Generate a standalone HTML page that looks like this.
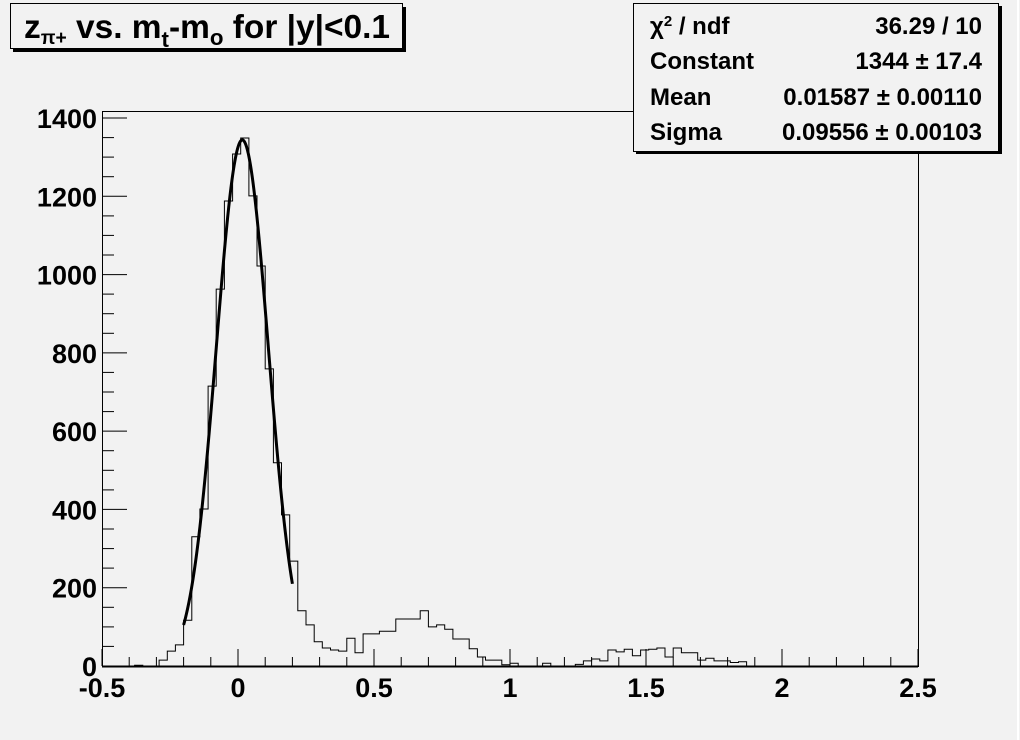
<!DOCTYPE html>
<html><head><meta charset="utf-8"><style>
html,body{margin:0;padding:0;background:#f2f2f2;}
svg{display:block;font-family:"Liberation Sans",Arial,sans-serif;font-weight:bold;}
</style></head><body>
<svg id="s" width="1020" height="740" viewBox="0 0 1020 740" xmlns="http://www.w3.org/2000/svg">
<rect x="0" y="0" width="1020" height="740" fill="#f2f2f2"/>
<line x1="1018" y1="0" x2="1018" y2="740" stroke="#fff" stroke-width="2"/>
<rect x="102.5" y="111.5" width="816" height="555" fill="none" stroke="#000" stroke-width="1"/>
<g id="ticks" stroke="#000" stroke-width="1"></g>
<path id="h" fill="none" stroke="#000" stroke-width="1"/>
<path id="f" fill="none" stroke="#000" stroke-width="3"/>
<line x1="102" y1="666.5" x2="918" y2="666.5" stroke="#000" stroke-width="2"/>
<g font-size="27" text-anchor="end" id="yl"></g>
<g font-size="27" text-anchor="middle" id="xl"></g>
<!-- title -->
<rect x="13" y="7" width="393" height="45" fill="#000"/>
<rect x="10.5" y="3.5" width="392" height="45" fill="#f2f2f2" stroke="#000" stroke-width="1"/>
<text x="24" y="38" font-size="33" textLength="366" lengthAdjust="spacingAndGlyphs">z<tspan font-size="19" dy="6">π+</tspan><tspan dy="-6"> vs. m</tspan><tspan font-size="22" dy="9">t</tspan><tspan dy="-9">-m</tspan><tspan font-size="22" dy="7">o</tspan><tspan dy="-7"> for |y|&lt;0.1</tspan></text>
<!-- stats -->
<rect x="636" y="6" width="366" height="148" fill="#000"/>
<rect x="633.5" y="3.5" width="365" height="148" fill="#f2f2f2" stroke="#000" stroke-width="1"/>
<g font-size="24">
<text x="650" y="34">χ<tspan font-size="15" dy="-8">2</tspan><tspan dy="8"> / ndf</tspan></text>
<text x="982" y="34" text-anchor="end">36.29 / 10</text>
<text x="650" y="69">Constant</text>
<text x="982" y="69" text-anchor="end">1344 ± 17.4</text>
<text x="650" y="105">Mean</text>
<text x="982" y="105" text-anchor="end">0.01587 ± 0.00110</text>
<text x="650" y="140">Sigma</text>
<text x="982" y="140" text-anchor="end">0.09556 ± 0.00103</text>
</g>
</svg>
<script>
var X0=102,PX=272,Y0=666,PY=548/1400;
function X(v){return X0+(v+0.5)*PX;}function Y(c){return Y0-c*PY;}
var vals={4:2,7:15,8:38,9:54,10:117,11:330,12:401,13:715,14:963,15:1188,16:1308,17:1349,18:1201,19:1022,20:759,21:519,22:386,23:268,24:141,25:105,26:62,27:46,28:41,29:38,30:71,31:34,32:82,33:82,34:89,35:89,36:120,37:120,38:120,39:141,40:100,41:105,42:94,43:69,44:69,45:44,46:23,47:15,48:15,49:3,50:7,54:7,58:4,59:13,60:18,61:13,62:41,63:36,64:43,65:26,66:41,67:43,68:46,69:23,70:46,71:34,72:34,73:15,74:20,75:13,76:13,77:9,78:11};
var d="M"+X0+" "+Y0;
for(var k=0;k<100;k++){var v=vals[k]||0,x1=X(-0.5+k*0.03),x2=X(-0.5+(k+1)*0.03),y=Y(v).toFixed(1);d+=" L"+x1.toFixed(1)+" "+y+" L"+x2.toFixed(1)+" "+y;}
d+=" L"+X(2.5)+" "+Y0;
document.getElementById('h').setAttribute('d',d);
var f="";for(var i=0;i<=200;i++){var x=-0.2+0.4*i/200,c=1344*Math.exp(-0.5*Math.pow((x-0.01587)/0.09556,2));f+=(i?"L":"M")+X(x).toFixed(2)+" "+Y(c).toFixed(2)+" ";}
document.getElementById('f').setAttribute('d',f);
var t="";
for(var c=0;c<=1400;c+=50){var y=Y(c).toFixed(1),L=c%200==0?25:12;t+='<line x1="102" y1="'+y+'" x2="'+(102+L)+'" y2="'+y+'"/>';}
for(var i=0;i<=30;i++){var v=-0.5+i*0.1,x=X(v).toFixed(1),L=i%5==0?17:9;t+='<line x1="'+x+'" y1="666" x2="'+x+'" y2="'+(666-L)+'"/>';}
document.getElementById('ticks').innerHTML=t;
var yl="";for(var c=0;c<=1400;c+=200){yl+='<text x="97" y="'+(Y(c)+10)+'">'+c+'</text>';}
document.getElementById('yl').innerHTML=yl;
var xl="",labs=["-0.5","0","0.5","1","1.5","2","2.5"];for(var i=0;i<7;i++){xl+='<text x="'+X(-0.5+i*0.5)+'" y="697">'+labs[i]+'</text>';}
document.getElementById('xl').innerHTML=xl;
</script>
</body></html>
